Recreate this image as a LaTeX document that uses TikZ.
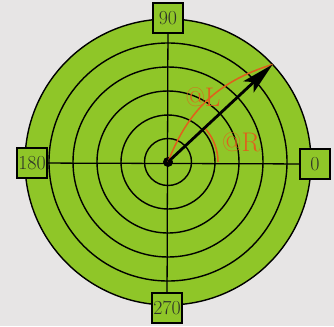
\documentclass[tikz,border=0pt]{standalone}
\usepackage{tikz}
\usetikzlibrary{arrows.meta}

\definecolor{paper}{RGB}{231,229,229}
\definecolor{disk}{RGB}{143,198,40}
\definecolor{angred}{RGB}{224,96,28}
\definecolor{ink}{RGB}{45,50,40}

\tikzset{
  dirbox/.style={draw=black,line width=1.2pt,fill=disk,minimum size=0.9cm,inner sep=0pt,
    font=\fontsize{17}{19}\selectfont,text=ink},
  ring/.style={line width=1.2pt},
  axis/.style={line width=1.1pt},
  anglabel/.style={font=\fontsize{23}{25}\selectfont,text=angred}
}

\begin{document}
\begin{tikzpicture}[x=0.03cm,y=0.03cm]
\useasboundingbox[fill=paper] (-168,-164) rectangle (166,162);
% disk and rings
\fill[disk] (0,0) circle (143);
\foreach \r in {23.5,47,71,95,119,143} {
  \draw[ring] (0,0) circle (\r);
}
% direction boxes
\node[dirbox] (n) at (0,144) {90};
\node[dirbox] (s) at (-1,-146) {270};
\node[dirbox] (e) at (147,-2) {0};
\node[dirbox] (w) at (-136,-1) {180};
\draw[axis] (w) -- (e);
\draw[axis] (n) -- (s);
% angle and length
\coordinate (tip) at (43:143);
\draw[angred,line width=1.3pt] (50,0) arc (0:43:50);
\node[fill=black,circle,minimum size=0.3cm,inner sep=0pt] (o) at (0,0) {};
\draw[angred,line width=1.3pt] (o.center) to[bend left=26] (tip);
\draw[line width=2.4pt,-{Stealth[length=28pt,width=13pt,inset=6pt]}] (o.center) -- (tip);
\node[anglabel] (lab) at (35,65) {@L};
\node[anglabel] (rab) at (73,20) {@R};
\end{tikzpicture}
\end{document}
